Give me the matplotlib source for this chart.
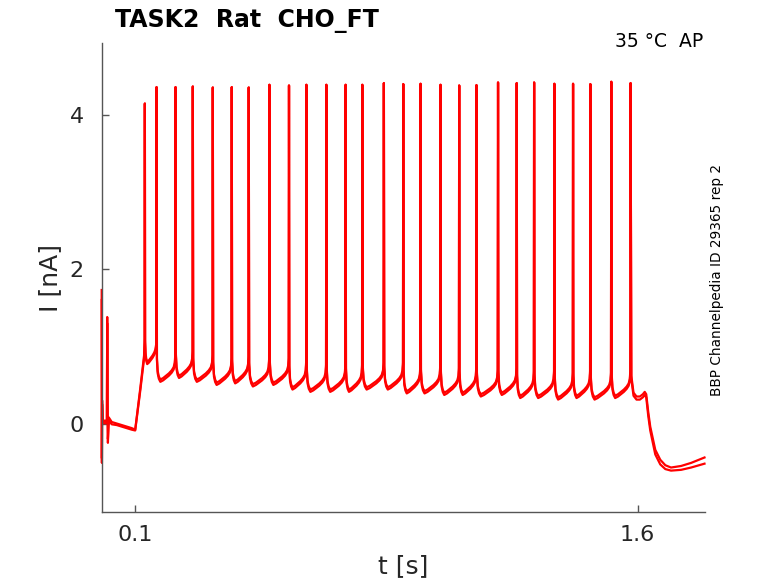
import matplotlib
matplotlib.use("Agg")
import matplotlib.pyplot as plt

# ---- data ----
spike_t = [0.1289, 0.1638, 0.2205, 0.2721, 0.3318, 0.3884, 0.4391, 0.5008,
           0.5593, 0.6112, 0.6708, 0.7284, 0.7782, 0.8426, 0.9005, 0.9521,
           1.0117, 1.0675, 1.1191, 1.1835, 1.2393, 1.2912, 1.3517, 1.4075,
           1.4591, 1.5217, 1.5793]
spike_peak = [4.146, 4.359, 4.359, 4.367, 4.354, 4.359, 4.354, 4.389,
              4.380, 4.389, 4.389, 4.389, 4.389, 4.411, 4.398, 4.402,
              4.389, 4.380, 4.385, 4.419, 4.411, 4.419, 4.402, 4.402,
              4.398, 4.428, 4.411]
# trough (after-hyperpolarisation) level following each spike, two repetitions
trough_rep1 = [0.80, 0.57, 0.62, 0.57, 0.53, 0.55, 0.51, 0.53, 0.47, 0.44,
               0.44, 0.44, 0.47, 0.47, 0.42, 0.42, 0.40, 0.40, 0.38, 0.40,
               0.36, 0.36, 0.34, 0.36, 0.34, 0.36]
trough_rep2 = [0.77, 0.54, 0.59, 0.54, 0.50, 0.52, 0.48, 0.50, 0.44, 0.41,
               0.41, 0.41, 0.44, 0.44, 0.39, 0.39, 0.37, 0.37, 0.35, 0.37,
               0.33, 0.33, 0.31, 0.33, 0.31, 0.33]
# shape of the trace between two spikes (fraction of interval, level above trough)
isi_phase = [0.02, 0.06, 0.12, 0.20, 0.35, 0.50, 0.65, 0.80, 0.90, 0.96, 0.985]
isi_offset = [0.28, 0.11, 0.04, 0.00, 0.02, 0.05, 0.08, 0.12, 0.16, 0.22, 0.32]

# trace before the first spike
onset_t = [0.0, 0.0006, 0.0012, 0.003, 0.010, 0.0155, 0.0165, 0.0175, 0.0185,
           0.021, 0.030, 0.045, 0.060, 0.075, 0.090, 0.100, 0.115, 0.1265, 0.1282]
onset_v1 = [1.73, -0.51, 0.30, 0.05, 0.03, 0.05, 1.38, 0.30, -0.25,
            0.08, 0.02, 0.00, -0.02, -0.04, -0.06, -0.08, 0.45, 0.88, 1.10]
onset_v2 = [1.60, -0.45, 0.25, 0.02, 0.00, 0.02, 1.30, 0.25, -0.20,
            0.04, -0.01, -0.02, -0.04, -0.06, -0.08, -0.09, 0.42, 0.84, 1.05]

# trace after the last spike
tail_t = [1.5815, 1.588, 1.597, 1.607, 1.616, 1.6215, 1.626, 1.632, 1.638,
          1.653, 1.668, 1.683, 1.700, 1.730, 1.760, 1.800]
tail_v1 = [0.62, 0.40, 0.35, 0.35, 0.38, 0.41, 0.38, 0.15, -0.04,
           -0.34, -0.47, -0.54, -0.57, -0.55, -0.51, -0.44]
tail_v2 = [0.58, 0.36, 0.31, 0.31, 0.34, 0.37, 0.34, 0.10, -0.09,
           -0.40, -0.53, -0.59, -0.61, -0.60, -0.57, -0.52]

x_ticks = [0.1, 1.6]
y_ticks = [0, 2, 4]


def build(onset_v, troughs, tail_v):
    t = list(onset_t)
    v = list(onset_v)
    for i, (ts, pk) in enumerate(zip(spike_t, spike_peak)):
        t.append(ts)
        v.append(pk)
        if i < len(troughs):
            isi = spike_t[i + 1] - ts
            for ph, off in zip(isi_phase, isi_offset):
                t.append(ts + ph * isi)
                v.append(troughs[i] + off)
    t += tail_t
    v += tail_v
    return t, v


W, H = 778, 583
fig = plt.figure(figsize=(W / 100, H / 100), dpi=100)
ax = fig.add_axes([101.7 / W, 1 - 512.3 / H, (704.5 - 101.7) / W, (512.3 - 43) / H])

for onset_v, troughs, tail_v in [(onset_v1, trough_rep1, tail_v1),
                                  (onset_v2, trough_rep2, tail_v2)]:
    t, v = build(onset_v, troughs, tail_v)
    ax.plot(t, v, color="#ff0000", lw=1.6, solid_joinstyle="round",
            clip_on=False)

ax.set_xlim(0, 1.8)
ax.set_ylim(-1.15, 4.93)
ax.set_xticks(x_ticks)
ax.set_xticklabels([str(x) for x in x_ticks])
ax.set_yticks(y_ticks)
ax.set_yticklabels([str(y) for y in y_ticks])

grey = "#555555"
txt = "#262626"
for s in ["top", "right"]:
    ax.spines[s].set_visible(False)
for s in ["left", "bottom"]:
    ax.spines[s].set_color(grey)
    ax.spines[s].set_linewidth(1.0)
    ax.spines[s].set_zorder(3)
ax.tick_params(direction="in", length=5, width=1, color=grey,
               labelsize=16, labelcolor=txt)
ax.tick_params(axis="x", pad=9)
ax.tick_params(axis="y", pad=13)

ax.set_xlabel("t [s]", fontsize=18, color=txt, labelpad=7)
ax.set_ylabel("I [nA]", fontsize=18, color=txt, labelpad=5)

fig.text(115 / W, 1 - 26.7 / H, "TASK2  Rat  CHO_FT", fontsize=17,
         fontweight="bold", ha="left", va="baseline", color="black")
fig.text(703 / W, 1 - 46.7 / H, "35 °C  AP", fontsize=13.5,
         ha="right", va="baseline", color="black")
fig.text(717 / W, 1 - 280 / H, "BBP Channelpedia ID 29365 rep 2", fontsize=9.8,
         rotation=90, ha="center", va="center", color="black")

fig.savefig("out.png", dpi=100)
